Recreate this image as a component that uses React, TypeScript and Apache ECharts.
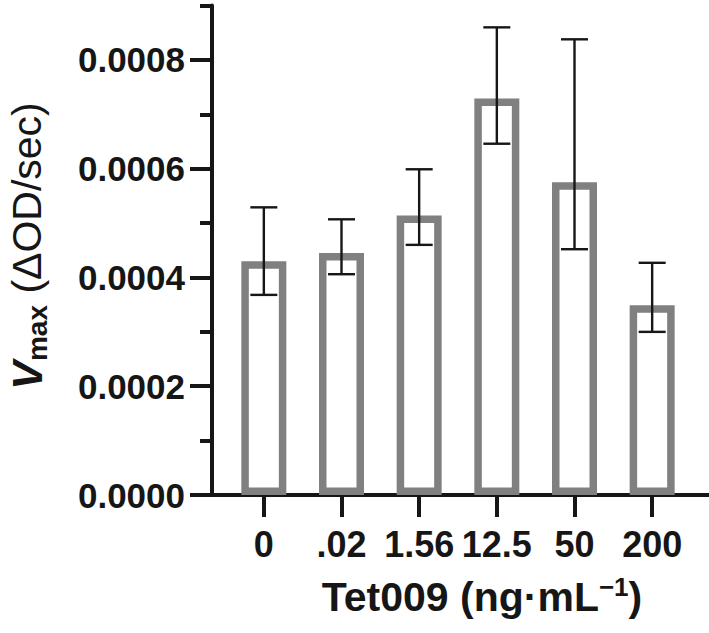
import React, { useEffect, useRef } from "react";
import * as echarts from "echarts";

const categories = ["0", ".02", "1.56", "12.5", "50", "200"];
const means = [0.00043, 0.000445, 0.000514, 0.000729, 0.000575, 0.000349];
const errHigh = [0.000529, 0.000507, 0.000599, 0.00086, 0.000838, 0.000427];
const errLow = [0.000368, 0.000406, 0.00046, 0.000646, 0.000452, 0.0003];
const yMajorTicks = [0, 0.0002, 0.0004, 0.0006, 0.0008];
const yTickLabels = ["0.0000", "0.0002", "0.0004", "0.0006", "0.0008"];

const FONT = "'Liberation Sans', Arial, Helvetica, sans-serif";
const INK = "#161616";
const GRAY = "#808080";

export default function App() {
  const ref = useRef<HTMLDivElement>(null);
  useEffect(() => {
    if (!ref.current) return;
    const chart = echarts.init(ref.current, null, { renderer: "svg" });
    const top = 5.6;
    const bottom = 138;
    chart.setOption({
      animation: false,
      backgroundColor: "#ffffff",
      grid: [
        { left: 212, right: 0, top, bottom },
        { left: 225, right: 18, top, bottom },
      ],
      xAxis: [
        {
          gridIndex: 0,
          type: "value",
          min: 0,
          max: 1,
          axisLine: { show: true, lineStyle: { color: INK, width: 4 } },
          axisTick: { show: false },
          axisLabel: { show: false },
          splitLine: { show: false },
        },
        {
          gridIndex: 1,
          type: "category",
          data: categories,
          axisLine: { show: false },
          axisTick: {
            show: true,
            alignWithLabel: true,
            length: 22,
            lineStyle: { color: INK, width: 4 },
          },
          axisLabel: {
            margin: 31,
            fontSize: 36,
            fontWeight: "bold",
            fontFamily: FONT,
            color: INK,
            interval: 0,
          },
          splitLine: { show: false },
        },
      ],
      yAxis: [
        {
          gridIndex: 0,
          type: "value",
          position: "left",
          min: 0,
          max: 0.0009,
          interval: 0.0001,
          axisLine: { show: true, lineStyle: { color: INK, width: 4 } },
          axisTick: { show: true, length: 12, lineStyle: { color: INK, width: 4 } },
          axisLabel: { show: false },
          splitLine: { show: false },
        },
        {
          gridIndex: 0,
          type: "value",
          position: "left",
          min: 0,
          max: 0.0009,
          interval: 0.0001,
          axisLine: { show: false },
          axisTick: {
            show: true,
            length: 22,
            customValues: yMajorTicks,
            lineStyle: { color: INK, width: 4 },
          },
          axisLabel: {
            customValues: yMajorTicks,
            margin: 27,
            fontSize: 35,
            fontWeight: "bold",
            fontFamily: FONT,
            color: INK,
            formatter: (v: number) => {
              const i = yMajorTicks.findIndex((t) => Math.abs(t - v) < 1e-9);
              return i >= 0 ? yTickLabels[i] : "";
            },
          },
          splitLine: { show: false },
        },
        {
          gridIndex: 1,
          type: "value",
          min: 0,
          max: 0.0009,
          show: false,
        },
      ],
      series: [
        {
          type: "bar",
          xAxisIndex: 1,
          yAxisIndex: 2,
          data: means,
          barWidth: 45,
          itemStyle: { color: "#ffffff", borderColor: GRAY, borderWidth: 7.5 },
          z: 2,
        },
        {
          type: "custom",
          xAxisIndex: 1,
          yAxisIndex: 2,
          z: 5,
          data: categories.map((c, i) => [i, errLow[i], errHigh[i]]),
          renderItem: (params: any, api: any) => {
            const lo = api.coord([api.value(0), api.value(1)]);
            const hi = api.coord([api.value(0), api.value(2)]);
            const half = 13.5;
            const style = { stroke: INK, lineWidth: 2.4, fill: "none" };
            return {
              type: "group",
              children: [
                { type: "line", shape: { x1: lo[0], y1: lo[1], x2: hi[0], y2: hi[1] }, style },
                { type: "line", shape: { x1: lo[0] - half, y1: lo[1], x2: lo[0] + half, y2: lo[1] }, style },
                { type: "line", shape: { x1: hi[0] - half, y1: hi[1], x2: hi[0] + half, y2: hi[1] }, style },
              ],
            };
          },
        },
      ],
      graphic: [
        {
          type: "text",
          x: 482,
          y: 597,
          style: {
            text: "{a|Tet009 (ng·mL}{s|−1}{a|)}",
            align: "center",
            verticalAlign: "middle",
            rich: {
              a: { fontSize: 41, fontWeight: "bold", fontFamily: FONT, fill: INK, color: INK, lineHeight: 46 },
              s: { fontSize: 26, fontWeight: "bold", fontFamily: FONT, fill: INK, color: INK, lineHeight: 26, verticalAlign: "top" },
            },
          },
        },
        {
          type: "text",
          x: 27,
          y: 246,
          rotation: Math.PI / 2,
          style: {
            text: "{v|V}{m|max}{t| (ΔOD/sec)}",
            align: "center",
            verticalAlign: "middle",
            rich: {
              v: { fontSize: 43, fontWeight: "bold", fontStyle: "italic", fontFamily: FONT, fill: INK, color: INK, lineHeight: 48 },
              m: { fontSize: 28, fontWeight: "bold", fontFamily: FONT, fill: INK, color: INK, lineHeight: 28, verticalAlign: "bottom" },
              t: { fontSize: 41, fontWeight: "normal", fontFamily: FONT, fill: INK, color: INK, lineHeight: 48 },
            },
          },
        },
      ],
    });
    return () => chart.dispose();
  }, []);
  return (
    <div
      ref={ref}
      style={{ position: "fixed", left: 0, top: 0, width: 709, height: 633, background: "#fff" }}
    />
  );
}
